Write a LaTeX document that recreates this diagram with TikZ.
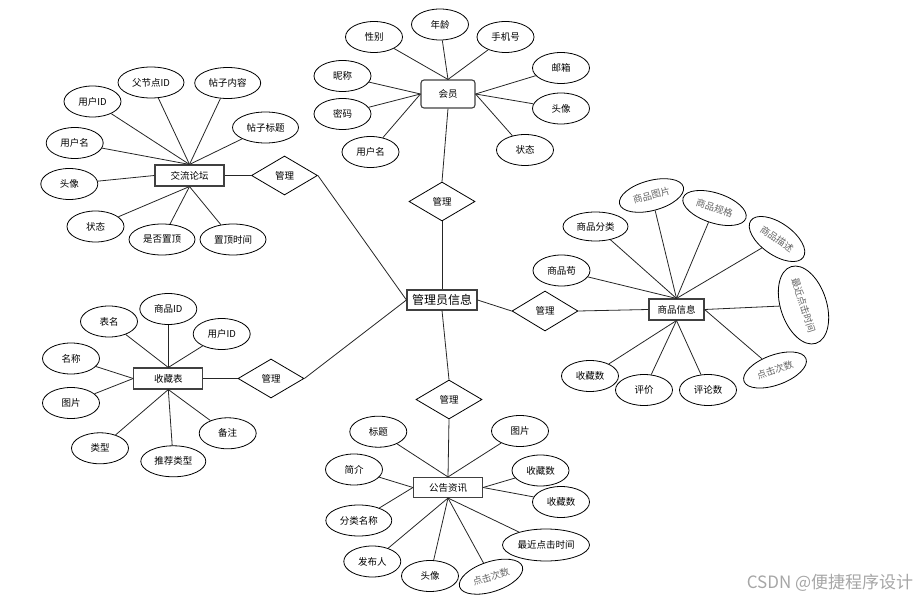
\documentclass[tikz,border=0pt]{standalone}
\usepackage{fontspec}
\setmainfont{Liberation Serif}
\newfontfamily\cjk{Noto Sans CJK SC}
\usetikzlibrary{shapes.geometric}
\tikzset{
  ent/.style={rectangle,draw=black!75,line width=1.1pt,fill=white,minimum width=69,minimum height=21,inner sep=0pt},
  attr/.style={ellipse,draw=black,line width=0.8pt,fill=white,minimum width=57,minimum height=31,inner sep=0pt},
  rattr/.style={attr,text=black!60},
  rel/.style={diamond,draw=black,line width=0.8pt,fill=white,minimum width=66,minimum height=39,inner sep=0pt},
  conn/.style={line width=0.8pt,black!85}
}
\begin{document}
\begin{tikzpicture}[x=1pt,y=-1pt,font=\cjk\fontsize{9.5}{11}\selectfont]
\useasboundingbox (0,0) rectangle (921,601);
% ---------- centre ----------
\node[ent,minimum width=70,minimum height=20,font=\cjk\fontsize{12}{14}\selectfont] (adm) at (442,300) {管理员信息};
% ---------- relationships ----------
\node[rel] (dhy) at (442,201.5) {管理};
\node[rel] (dlt) at (284.5,175.5) {管理};
\node[rel] (dsc) at (271,378.5) {管理};
\node[rel,minimum height=40] (dsp) at (545,311) {管理};
\node[rel] (dgg) at (449,399.5) {管理};
% ---------- entities ----------
\node[ent,rounded corners=3pt,minimum width=54,minimum height=28] (hy) at (448,94) {会员};
\node[ent] (lt) at (189.5,175.5) {交流论坛};
\node[ent,minimum width=55] (sp) at (676.5,309.5) {商品信息};
\node[ent] (sc) at (168.3,378.5) {收藏表};
\node[ent,minimum height=20] (gg) at (448,487.5) {公告资讯};
% ---------- 会员 attributes ----------
\node[attr] (hy1) at (374,37) {性别};
\node[attr] (hy2) at (440,24.5) {年龄};
\node[attr] (hy3) at (505.5,37) {手机号};
\node[attr] (hy4) at (561,68) {邮箱};
\node[attr] (hy5) at (561,108.5) {头像};
\node[attr] (hy6) at (525,150) {状态};
\node[attr] (hy7) at (342.5,76) {昵称};
\node[attr] (hy8) at (342.5,114) {密码};
\node[attr] (hy9) at (370.5,152) {用户名};
\foreach \a in {hy1,hy2,hy3} \draw[conn] (\a) -- (hy.north);
\foreach \a in {hy4,hy5,hy6} \draw[conn] (\a) -- (hy.east);
\foreach \a in {hy7,hy8,hy9} \draw[conn] (\a) -- (hy.west);
% ---------- 交流论坛 attributes ----------
\node[attr] (lt1) at (92.5,101.5) {用户ID};
\node[attr,minimum width=66] (lt2) at (151,82.5) {父节点ID};
\node[attr,minimum width=66] (lt3) at (227.7,83) {帖子内容};
\node[attr,minimum width=66] (lt4) at (265.5,127.5) {帖子标题};
\node[attr] (lt5) at (74.7,143) {用户名};
\node[attr] (lt6) at (69.3,184) {头像};
\node[attr] (lt7) at (95.5,226.5) {状态};
\node[attr,minimum width=66] (lt8) at (162,239.5) {是否置顶};
\node[attr,minimum width=66] (lt9) at (233,239.5) {置顶时间};
\foreach \a in {lt1,lt2,lt3,lt4,lt5} \draw[conn] (\a) -- (lt.north);
\draw[conn] (lt6) -- (lt.west);
\foreach \a in {lt7,lt8,lt9} \draw[conn] (\a) -- (lt.south);
% ---------- 商品信息 attributes ----------
\node[attr,minimum width=65,minimum height=29] (sp1) at (595.5,226.5) {商品分类};
\node[rattr,minimum width=66,minimum height=30,rotate=15] (sp2) at (651.5,195.5) {商品图片};
\node[rattr,minimum width=66,minimum height=30,rotate=-18] (sp3) at (714.5,208) {商品规格};
\node[rattr,minimum width=64,minimum height=32,rotate=-35] (sp4) at (777,239) {商品描述};
\node[rattr,minimum width=78,minimum height=46,rotate=-72] (sp5) at (803.5,305) {最近点击时间};
\node[rattr,minimum width=66,minimum height=30,rotate=20] (sp6) at (775,370) {点击次数};
\node[attr] (sp7) at (561.5,270.5) {商品苟};
\node[attr] (sp8) at (590,376) {收藏数};
\node[attr] (sp9) at (644,390) {评价};
\node[attr] (sp10) at (708,390) {评论数};
\foreach \a in {sp1,sp2,sp3,sp4,sp7} \draw[conn] (\a) -- (sp.north);
\foreach \a in {sp5,sp6} \draw[conn] (\a) -- (sp.east);
\foreach \a in {sp8,sp9,sp10} \draw[conn] (\a) -- (sp.south);
% ---------- 收藏表 attributes ----------
\node[attr] (sc1) at (109,321.5) {表名};
\node[attr] (sc2) at (168.3,309) {商品ID};
\node[attr] (sc3) at (221.7,334) {用户ID};
\node[attr] (sc4) at (71,358.5) {名称};
\node[attr] (sc5) at (71,403) {图片};
\node[attr] (sc6) at (100,448.3) {类型};
\node[attr,minimum width=65] (sc7) at (173.3,461.3) {推荐类型};
\node[attr] (sc8) at (227.7,433.3) {备注};
\foreach \a in {sc1,sc2,sc3} \draw[conn] (\a) -- (sc.north);
\foreach \a in {sc4,sc5} \draw[conn] (\a) -- (sc.west);
\foreach \a in {sc6,sc7,sc8} \draw[conn] (\a) -- (sc.south);
% ---------- 公告资讯 attributes ----------
\node[attr] (gg1) at (378.3,431.7) {标题};
\node[attr] (gg2) at (520,431) {图片};
\node[attr] (gg3) at (354,469.5) {简介};
\node[attr] (gg4) at (540.5,470.5) {收藏数};
\node[attr] (gg5) at (561,502) {收藏数};
\node[attr,minimum width=66] (gg6) at (358.8,520.5) {分类名称};
\node[attr,minimum width=87,minimum height=32] (gg7) at (546,545) {最近点击时间};
\node[attr] (gg8) at (372.3,561.5) {发布人};
\node[attr] (gg9) at (430,576) {头像};
\node[rattr,minimum width=66,minimum height=30,rotate=18] (gg10) at (491,576.7) {点击次数};
\foreach \a in {gg1,gg2} \draw[conn] (\a) -- (gg.north);
\foreach \a in {gg3,gg6} \draw[conn] (\a) -- (gg.west);
\foreach \a in {gg4,gg5} \draw[conn] (\a) -- (gg.east);
\foreach \a in {gg7,gg8,gg9,gg10} \draw[conn] (\a) -- (gg.south);
% ---------- relationship connectors ----------
\draw[conn] (hy.south) -- (dhy.north);
\draw[conn] (dhy.south) -- (adm.north);
\draw[conn] (lt.east) -- (dlt.west);
\draw[conn] (dlt.east) -- (adm.west);
\draw[conn] (sc.east) -- (dsc.west);
\draw[conn] (dsc.east) -- (adm.west);
\draw[conn] (adm.east) -- (dsp.west);
\draw[conn] (dsp.east) -- (sp.west);
\draw[conn] (adm.south) -- (dgg.north);
\draw[conn] (dgg.south) -- (gg.north);
% ---------- watermark ----------
\node[text=black!35,font=\cjk\fontsize{17}{19}\selectfont] (wm) at (830,583) {CSDN @便捷程序设计};
\end{tikzpicture}
\end{document}
